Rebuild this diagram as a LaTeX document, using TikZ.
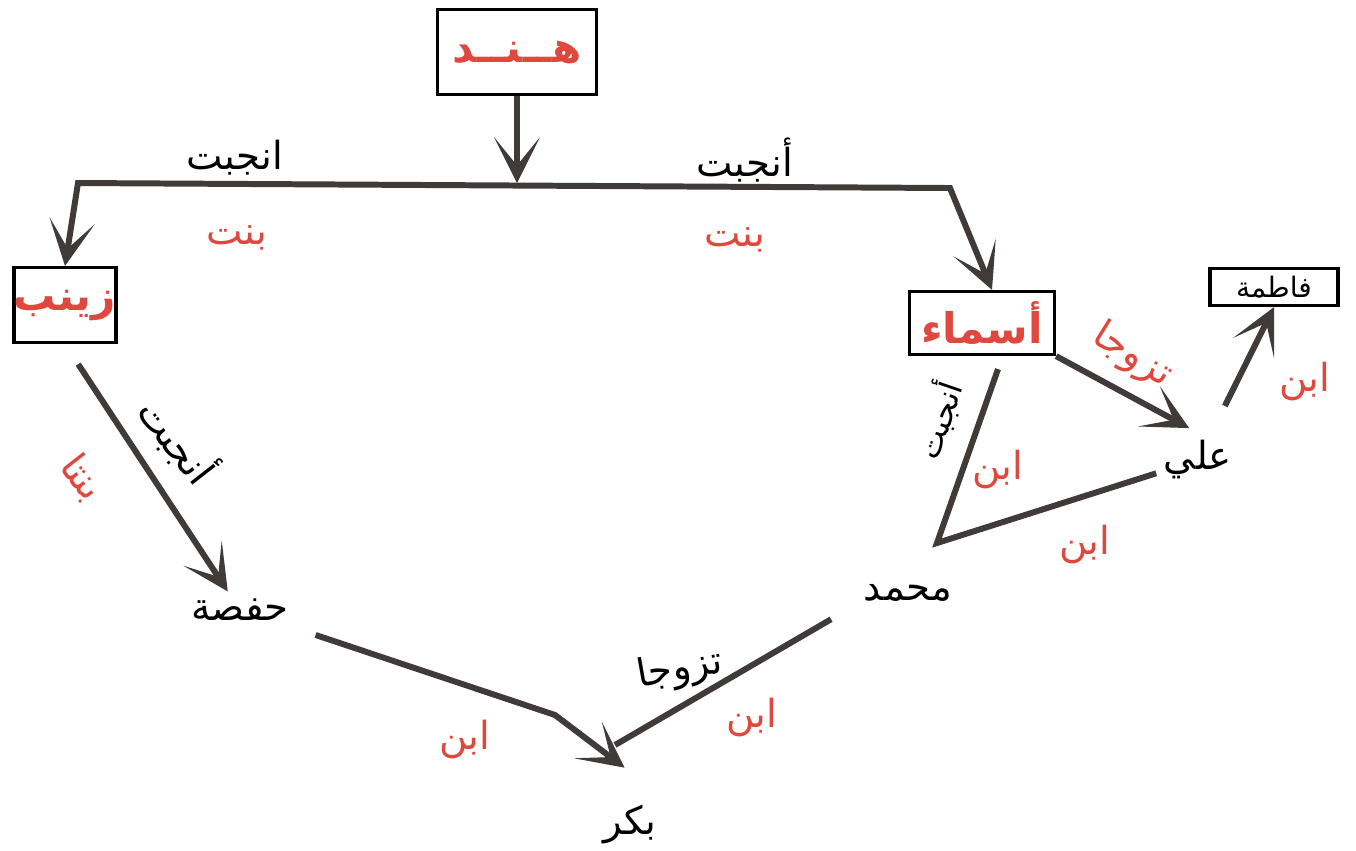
\documentclass[tikz,border=0pt]{standalone}
\usepackage{fontspec}
\newfontfamily\arfont[Script=Arabic]{DejaVu Sans}
\TeXXeTstate=1
\usetikzlibrary{arrows.meta}
\definecolor{namered}{RGB}{222,72,62}
\definecolor{linkgray}{RGB}{64,58,56}
\newcommand{\artext}[1]{{\arfont\beginR #1\endR}}

\begin{document}
\begin{tikzpicture}[
  x=0.01cm, y=-0.01cm,
  >={Stealth[length=13pt,width=13pt,inset=8pt]},
  namebox/.style={rectangle, draw, line width=0.9pt, inner sep=0pt, font=\bfseries\fontsize{12}{14}\selectfont, text=namered},
  smallbox/.style={rectangle, draw, line width=0.9pt, inner sep=0pt, font=\fontsize{8}{10}\selectfont},
  person/.style={inner sep=2pt, font=\fontsize{11}{13}\selectfont},
  link/.style={draw=linkgray, line width=1.7pt},
  verb/.style={inner sep=1pt, font=\fontsize{11}{13}\selectfont},
  kin/.style={inner sep=1pt, font=\fontsize{11}{13}\selectfont, text=namered}
]
\fill[white] (0,0) rectangle (1356,850);
\useasboundingbox (0,0) rectangle (1356,850);

% People
\node[namebox, minimum width=1.59cm, minimum height=0.85cm] (hind) at (517,52) {\artext{هــنــد}};
\node[namebox, minimum width=1cm, minimum height=0.75cm] (zaynab) at (65,305) {\artext{زينب}};
\node[namebox, minimum width=1.45cm, minimum height=0.63cm] (asma) at (982,323) {\artext{أسماء}};
\node[smallbox, minimum width=1.28cm, minimum height=0.37cm] (fatima) at (1274,287) {\artext{فاطمة}};
\node[person] (hafsa) at (240,610) {\artext{حفصة}};
\node[person] (muhammad) at (908,593) {\artext{محمد}};
\node[person] (ali) at (1198,460) {\artext{علي}};
\node[person] (bakr) at (630,825) {\artext{بكر}};

\coordinate (split) at (517,183);
\coordinate (leftc) at (78,183);
\coordinate (rightc) at (950,188);
\coordinate (bend) at (555,715);
\coordinate (corner) at (937,543);
\coordinate (meet) at (615,745);

% Links
\draw[link, ->] (hind) -- (split);
\draw[link, <->] (zaynab.north) -- (leftc) -- (rightc) -- ([xshift=0.1cm]asma.north);
\draw[link, ->, shorten <=0.24cm] (zaynab.south) -- (hafsa);
\draw[link, ->, shorten <=0.2cm, shorten >=0.5cm] (hafsa.south east) -- (bend) -- (bakr.north east);
\draw[link] ([xshift=-0.25cm,yshift=-0.1cm]muhammad.south west) -- (meet);
\draw[link, ->, shorten >=0.1cm] (asma.south east) -- (ali.north);
\draw[link] ([xshift=0.16cm,yshift=-0.13cm]asma.south) -- (corner) -- (ali);
\draw[link, ->, shorten <=0.3cm] (ali) -- (fatima.south);

% Labels
\node[verb] (bore1) at (235,158) {\artext{انجبت}};
\node[verb] (bore2) at (745,160) {\artext{أنجبت}};
\node[kin] (girl1) at (237,238) {\artext{بنت}};
\node[kin] (girl2) at (735,240) {\artext{بنت}};
\node[verb, rotate=-52] (bore3) at (178,440) {\artext{أنجبت}};
\node[kin, rotate=-52] (girls) at (82,478) {\artext{بنتا}};
\node[verb, rotate=71, font=\fontsize{9}{11}\selectfont] (bore4) at (938,420) {\artext{أنجبت}};
\node[kin] (son1) at (998,470) {\artext{ابن}};
\node[kin] (son2) at (1085,545) {\artext{ابن}};
\node[kin, rotate=-32] (wed1) at (1132,356) {\artext{تزوجا}};
\node[kin] (son3) at (1305,382) {\artext{ابن}};
\node[verb, rotate=10] (wed2) at (680,670) {\artext{تزوجا}};
\node[kin] (son4) at (752,718) {\artext{ابن}};
\node[kin] (son5) at (465,740) {\artext{ابن}};

\end{tikzpicture}
\end{document}
